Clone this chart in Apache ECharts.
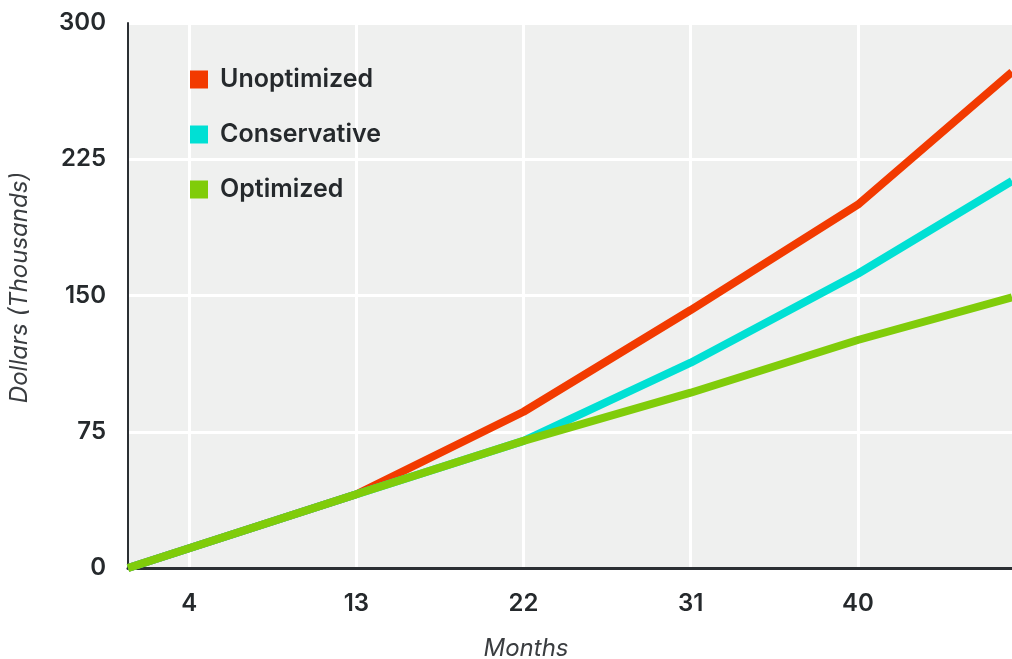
<!DOCTYPE html>
<html>
<head>
<meta charset="utf-8">
<script src="https://cdn.jsdelivr.net/npm/echarts@6/dist/echarts.min.js"></script>
<style>
  html, body { margin: 0; padding: 0; background: #ffffff; }
  #chart { width: 1012px; height: 659px; }
</style>
</head>
<body>
<div id="chart"></div>
<script>
// Cumulative cost by month, in thousands of dollars
const months = [0.7, 13, 22, 31, 40, 48.3];
const monthTicks = [4, 13, 22, 31, 40];
const unoptimized = [0, 40.6, 86, 142, 200, 273];
const conservative = [0, 40.6, 70, 113, 162, 213];
const optimized = [0, 40.6, 70, 96.5, 125.5, 149];
const seriesNames = ['Unoptimized', 'Conservative', 'Optimized'];
const seriesColors = ['#f23a00', '#00e0d4', '#80cc0a'];
const seriesValues = [unoptimized, conservative, optimized];

const textColor = '#25292c';
const fontFamily = 'Inter, "Noto Sans", sans-serif';

const chart = echarts.init(document.getElementById('chart'), null, { renderer: 'canvas' });

chart.setOption({
  animation: false,
  backgroundColor: '#ffffff',
  textStyle: { fontFamily: fontFamily },
  grid: {
    left: 128, right: 0, top: 23, bottom: 91,
    outerBoundsMode: 'none',
    containLabel: false,
    show: true, backgroundColor: '#eff0ef', borderWidth: 0
  },
  legend: {
    orient: 'vertical',
    left: 185, top: 62,
    itemWidth: 18, itemHeight: 18, itemGap: 30,
    icon: 'rect',
    textStyle: { fontSize: 25, fontWeight: 600, color: textColor, padding: [0, 0, 0, 7] },
    data: seriesNames
  },
  xAxis: {
    type: 'value',
    min: months[0],
    max: months[months.length - 1],
    name: 'Months',
    nameLocation: 'middle',
    nameGap: 69,
    nameTextStyle: { fontSize: 24, fontStyle: 'italic', color: '#3a3d40', padding: [0, 88, 0, 0] },
    axisLine: { show: true, lineStyle: { color: '#2b2f33', width: 3 } },
    axisTick: { show: false, customValues: monthTicks },
    axisLabel: {
      customValues: monthTicks,
      fontSize: 24, fontWeight: 600, color: textColor, margin: 24
    },
    splitLine: { show: true, lineStyle: { color: '#ffffff', width: 3 } }
  },
  yAxis: {
    type: 'value',
    min: 0, max: 300, interval: 75,
    name: 'Dollars (Thousands)',
    nameLocation: 'middle',
    nameGap: 96,
    nameTextStyle: { fontSize: 24, fontStyle: 'italic', color: '#3a3d40', padding: [0, 0, 0, 16] },
    axisLine: { show: true, lineStyle: { color: '#2b2f33', width: 2 } },
    axisTick: { show: false },
    axisLabel: { fontSize: 24, fontWeight: 600, color: textColor, margin: 22 },
    splitLine: { show: true, lineStyle: { color: '#ffffff', width: 3 } }
  },
  series: seriesNames.map((name, i) => ({
    name: name,
    type: 'line',
    data: months.map((m, j) => [m, seriesValues[i][j]]),
    symbol: 'none',
    lineStyle: { color: seriesColors[i], width: 8 },
    itemStyle: { color: seriesColors[i] },
    clip: true,
    z: 2 + i
  }))
});
</script>
</body>
</html>
